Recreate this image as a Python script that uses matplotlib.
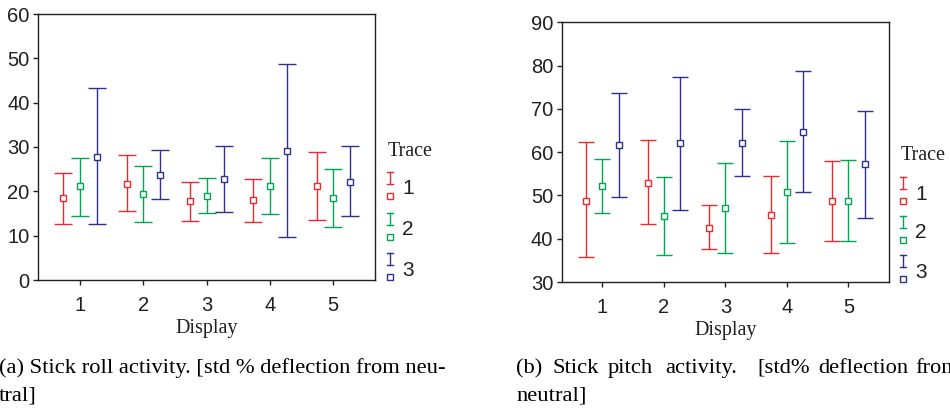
import matplotlib.pyplot as plt
from matplotlib.lines import Line2D
from matplotlib.transforms import Affine2D
import numpy as np

displays = np.array([1, 2, 3, 4, 5])
traces = ["1", "2", "3"]
trace_colors = ["#ee2a2e", "#00a651", "#2e3192"]
trace_offsets = [-0.26, 0.0, 0.27]

# stick roll activity: mean and error bar ends, one row per trace
roll_mean = [[18.5, 21.7, 17.9, 18.0, 21.1],
             [21.1, 19.3, 19.0, 21.1, 18.4],
             [27.8, 23.7, 22.7, 29.0, 22.2]]
roll_low = [[12.7, 15.6, 13.3, 13.1, 13.5],
            [14.4, 13.1, 15.2, 14.8, 11.9],
            [12.6, 18.2, 15.3, 9.6, 14.4]]
roll_high = [[24.2, 28.1, 22.1, 22.7, 28.9],
             [27.6, 25.7, 22.9, 27.6, 25.0],
             [43.2, 29.4, 30.3, 48.7, 30.3]]

# stick pitch activity
pitch_mean = [[48.8, 52.9, 42.5, 45.5, 48.8],
              [52.1, 45.2, 47.0, 50.9, 48.8],
              [61.6, 62.0, 62.0, 64.7, 57.2]]
pitch_low = [[35.7, 43.4, 37.6, 36.6, 39.5],
             [46.0, 36.2, 36.6, 38.9, 39.5],
             [49.7, 46.6, 54.4, 50.7, 44.8]]
pitch_high = [[62.3, 62.7, 47.7, 54.5, 58.0],
              [58.4, 54.3, 57.6, 62.6, 58.2],
              [73.7, 77.3, 69.9, 78.8, 69.6]]

W, H = 950, 408
fig = plt.figure(figsize=(W / 100, H / 100), dpi=100)
# pixel coordinates measured from the top-left corner
px = Affine2D().scale(1 / W, -1 / H).translate(0, 1) + fig.transFigure

ink = "#231f20"
sans = "Liberation Sans"
serif = "Liberation Serif"


def panel(rect, means, lows, highs, ylim, yticks, capsize):
    l, t, r, b = rect
    ax = fig.add_axes([l / W, 1 - b / H, (r - l) / W, (b - t) / H])
    for k in range(len(traces)):
        m = np.array(means[k])
        err = [m - np.array(lows[k]), np.array(highs[k]) - m]
        ax.errorbar(displays + trace_offsets[k], m, yerr=err, fmt="s",
                    color=trace_colors[k], ecolor=trace_colors[k],
                    ms=5, mfc="white", mec=trace_colors[k], mew=1.0,
                    elinewidth=1.0, capsize=capsize, capthick=1.0)
    ax.set_xlim(0.34, 5.66)
    ax.set_ylim(*ylim)
    ax.set_xticks(displays)
    ax.set_yticks(yticks)
    for s in ax.spines.values():
        s.set_color(ink)
        s.set_linewidth(1.0)
    ax.tick_params(axis="both", direction="out", length=3.5, width=1.0,
                   color=ink, labelcolor=ink, labelsize=14.5)
    ax.tick_params(axis="x", pad=8)
    ax.tick_params(axis="y", pad=2.5)
    for lab in ax.get_xticklabels() + ax.get_yticklabels():
        lab.set_fontfamily(sans)
    ax.set_xlabel("Display", fontfamily=serif, fontsize=14.5, color=ink,
                  labelpad=3)
    return ax


def key(x, y_title, y_first, step):
    fig.text(x - 2, y_title, "Trace", transform=px, fontfamily=serif,
             fontsize=14.5, color=ink, va="center", ha="left")
    for k, name in enumerate(traces):
        c = trace_colors[k]
        y0 = y_first + k * step
        fig.add_artist(Line2D([x, x], [y0, y0 + 12], transform=px,
                              color=c, lw=1.0))
        for yc in (y0, y0 + 12):
            fig.add_artist(Line2D([x - 3, x + 3], [yc, yc], transform=px,
                                  color=c, lw=1.0))
        fig.add_artist(Line2D([x], [y0 + 24], transform=px, marker="s",
                              ms=4.2, mfc="white", mec=c, mew=1.0))
        fig.text(x + 12, y0 + 17, name, transform=px, fontfamily=sans,
                 fontsize=15, color=ink, va="center", ha="left")


panel((38, 14, 375, 280), roll_mean, roll_low, roll_high,
      (0, 60), range(0, 61, 10), 6.5)
panel((561.7, 22.3, 889, 282), pitch_mean, pitch_low, pitch_high,
      (30, 90), range(30, 91, 10), 5.5)

key(390, 152, 172, 40.5)
key(903, 155, 177, 39)

cap = dict(transform=px, fontfamily=serif, fontsize=16.2, color="black",
           va="baseline", ha="left")
fig.text(-1, 373, "(a) Stick roll activity. [std % deflection from neu-", **cap)
fig.text(-1, 400, "tral]", **cap)
# justified first line of the second caption, word by word
caption_b_words = ["(b)", "Stick", "pitch", "activity.", "[std%", "deflection", "from"]
caption_b_x = [516, 553, 608, 665, 757, 818, 915]
for word, x in zip(caption_b_words, caption_b_x):
    fig.text(x, 373, word, **cap)
fig.text(516, 400, "neutral]", **cap)

fig.savefig("out.png", dpi=100)
